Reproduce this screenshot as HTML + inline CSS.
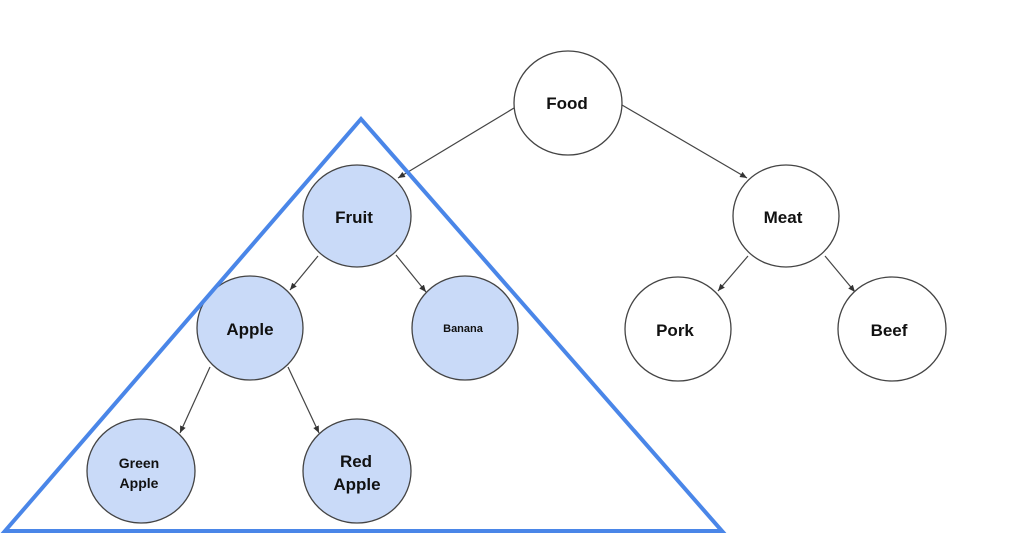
<!DOCTYPE html>
<html><head><meta charset="utf-8"><style>
html,body{margin:0;padding:0;background:#fff;width:1014px;height:547px;overflow:hidden}
text{font-family:"Liberation Sans",Arial,sans-serif;font-weight:bold;fill:#111;text-anchor:middle}
</style></head><body>
<svg width="1014" height="547" viewBox="0 0 1014 547" xmlns="http://www.w3.org/2000/svg">
<defs><marker id="a" markerWidth="8" markerHeight="8" refX="7" refY="4" orient="auto" markerUnits="userSpaceOnUse"><path d="M0,1 L7,4 L0,7 z" fill="#333"/></marker></defs>
<g stroke="#444" stroke-width="1.2" marker-end="url(#a)">
<line x1="514" y1="108" x2="398" y2="178"/>
<line x1="622" y1="105" x2="747" y2="178"/>
<line x1="318" y1="256" x2="290" y2="290"/>
<line x1="396" y1="255" x2="426" y2="292"/>
<line x1="210" y1="367" x2="180" y2="433"/>
<line x1="288" y1="367" x2="319" y2="433"/>
<line x1="748" y1="256" x2="718" y2="291"/>
<line x1="825" y1="256" x2="855" y2="292"/>
</g>
<g stroke="#444" stroke-width="1.3">
<ellipse cx="568" cy="103" rx="54" ry="52" fill="#fff"/>
<ellipse cx="786" cy="216" rx="53" ry="51" fill="#fff"/>
<ellipse cx="678" cy="329" rx="53" ry="52" fill="#fff"/>
<ellipse cx="892" cy="329" rx="54" ry="52" fill="#fff"/>
<ellipse cx="357" cy="216" rx="54" ry="51" fill="#c9daf8"/>
<ellipse cx="250" cy="328" rx="53" ry="52" fill="#c9daf8"/>
<ellipse cx="465" cy="328" rx="53" ry="52" fill="#c9daf8"/>
<ellipse cx="141" cy="471" rx="54" ry="52" fill="#c9daf8"/>
<ellipse cx="357" cy="471" rx="54" ry="52" fill="#c9daf8"/>
</g>
<polygon points="361,119 5,531 722,531" fill="none" stroke="#4a86e8" stroke-width="4" stroke-linejoin="miter"/>
<text x="567" y="109" font-size="17">Food</text>
<text x="783" y="223" font-size="17">Meat</text>
<text x="675" y="336" font-size="17">Pork</text>
<text x="889" y="336" font-size="17">Beef</text>
<text x="354" y="223" font-size="17">Fruit</text>
<text x="250" y="335" font-size="17">Apple</text>
<text x="463" y="332" font-size="11">Banana</text>
<text x="139" y="468" font-size="14">Green</text>
<text x="139" y="488" font-size="14">Apple</text>
<text x="356" y="467" font-size="17">Red</text>
<text x="357" y="490" font-size="17">Apple</text>
</svg>
</body></html>
